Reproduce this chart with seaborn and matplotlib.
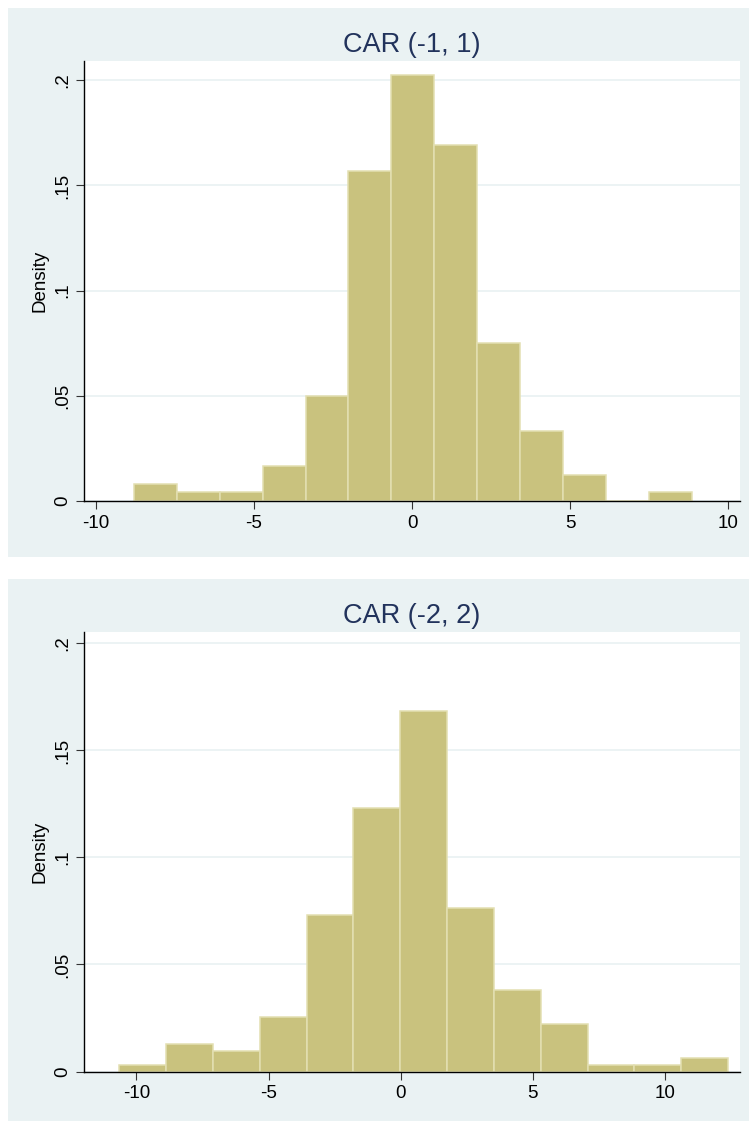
import numpy as np
import pandas as pd
import matplotlib
matplotlib.use("Agg")
import matplotlib.pyplot as plt
from matplotlib.patches import Rectangle
from matplotlib.ticker import FixedLocator, FixedFormatter
import seaborn as sns

# ---- data ----
titles = ["CAR (-1, 1)", "CAR (-2, 2)"]

edges_1 = [-8.79, -7.43, -6.08, -4.72, -3.36, -2.01, -0.65, 0.71, 2.07, 3.42, 4.78, 6.14, 7.49, 8.85]
counts_1 = [2, 1, 1, 4, 12, 38, 49, 41, 18, 8, 3, 0, 1]

edges_2 = [-10.65, -8.88, -7.10, -5.33, -3.56, -1.79, -0.01, 1.76, 3.53, 5.31, 7.08, 8.85, 10.63, 12.40]
counts_2 = [1, 4, 3, 8, 23, 39, 53, 24, 12, 7, 1, 1, 2]

y_ticks = [0, 0.05, 0.1, 0.15, 0.2]
y_tick_labels = ["0", ".05", ".1", ".15", ".2"]
x_ticks_1 = [-10, -5, 0, 5, 10]
x_ticks_2 = [-10, -5, 0, 5, 10]

# ---- style ----
sns.set_theme(style="white")
plt.rcParams["font.family"] = ["Liberation Sans", "DejaVu Sans"]
plt.rcParams["axes.unicode_minus"] = False

W, H = 749, 1122
DPI = 100
BG = "#EAF2F3"
BAR = "#C9C27E"
BAR_EDGE = "#E3DFB2"
TITLE_C = "#22335C"

fig = plt.figure(figsize=(W / DPI, H / DPI), dpi=DPI)
fig.patch.set_facecolor("white")


def fig_rect(x0, y0, x1, y1):
    """pixel box (top-left origin) -> figure fraction [l, b, w, h]"""
    return [x0 / W, 1 - y1 / H, (x1 - x0) / W, (y1 - y0) / H]


panels = [
    dict(bg=(8, 8, 749, 557), ax=(83.6, 61.4, 740.4, 501.0),
         edges=edges_1, counts=counts_1, xlim=(-10.38, 10.38), ylim=(0, 0.209),
         xticks=x_ticks_1, title=titles[0]),
    dict(bg=(8, 579, 749, 1121), ax=(83.6, 631.7, 740.4, 1071.5),
         edges=edges_2, counts=counts_2, xlim=(-12.0, 12.86), ylim=(0, 0.2055),
         xticks=x_ticks_2, title=titles[1]),
]

for p in panels:
    l, b, w, h = fig_rect(*p["bg"])
    fig.add_artist(Rectangle((l, b), w, h, transform=fig.transFigure,
                             facecolor=BG, edgecolor="none", zorder=0))

    ax = fig.add_axes(fig_rect(*p["ax"]))
    ax.set_facecolor("white")
    ax.set_zorder(1)

    edges = p["edges"]
    centers = [(edges[i] + edges[i + 1]) / 2 for i in range(len(edges) - 1)]
    df = pd.DataFrame({"x": centers, "w": p["counts"]})
    sns.histplot(data=df, x="x", weights="w", bins=edges, stat="density",
                 color=BAR, edgecolor=BAR_EDGE, linewidth=1.1, alpha=1.0, ax=ax)

    ax.set_xlim(*p["xlim"])
    ax.set_ylim(*p["ylim"])
    ax.set_axisbelow(True)
    ax.yaxis.grid(True, color=BG, linewidth=1.3)
    ax.xaxis.grid(False)

    ax.yaxis.set_major_locator(FixedLocator(y_ticks))
    ax.yaxis.set_major_formatter(FixedFormatter(y_tick_labels))
    ax.xaxis.set_major_locator(FixedLocator(p["xticks"]))
    ax.set_xticklabels([str(t) for t in p["xticks"]])

    for s in ["top", "right"]:
        ax.spines[s].set_visible(False)
    for s in ["left", "bottom"]:
        ax.spines[s].set_color("#000000")
        ax.spines[s].set_linewidth(1.0)

    ax.tick_params(axis="both", which="major", direction="out", length=6,
                   width=0.8, color="#333333", labelsize=13.5, labelcolor="#000000",
                   left=True, bottom=True)
    ax.tick_params(axis="x", pad=4)
    ax.tick_params(axis="y", pad=3)
    for lab in ax.get_yticklabels():
        lab.set_rotation(90)
        lab.set_va("center")

    ax.set_xlabel("")
    ax.set_ylabel("Density", fontsize=13.5, color="#000000", labelpad=4)

    ax_l, ax_t, ax_r = p["ax"][0], p["ax"][1], p["ax"][2]
    fig.text(((ax_l + ax_r) / 2) / W, 1 - (ax_t - 9) / H, p["title"],
             ha="center", va="baseline", fontsize=19.5, color=TITLE_C)

fig.savefig("out.png", dpi=DPI, facecolor="white")
